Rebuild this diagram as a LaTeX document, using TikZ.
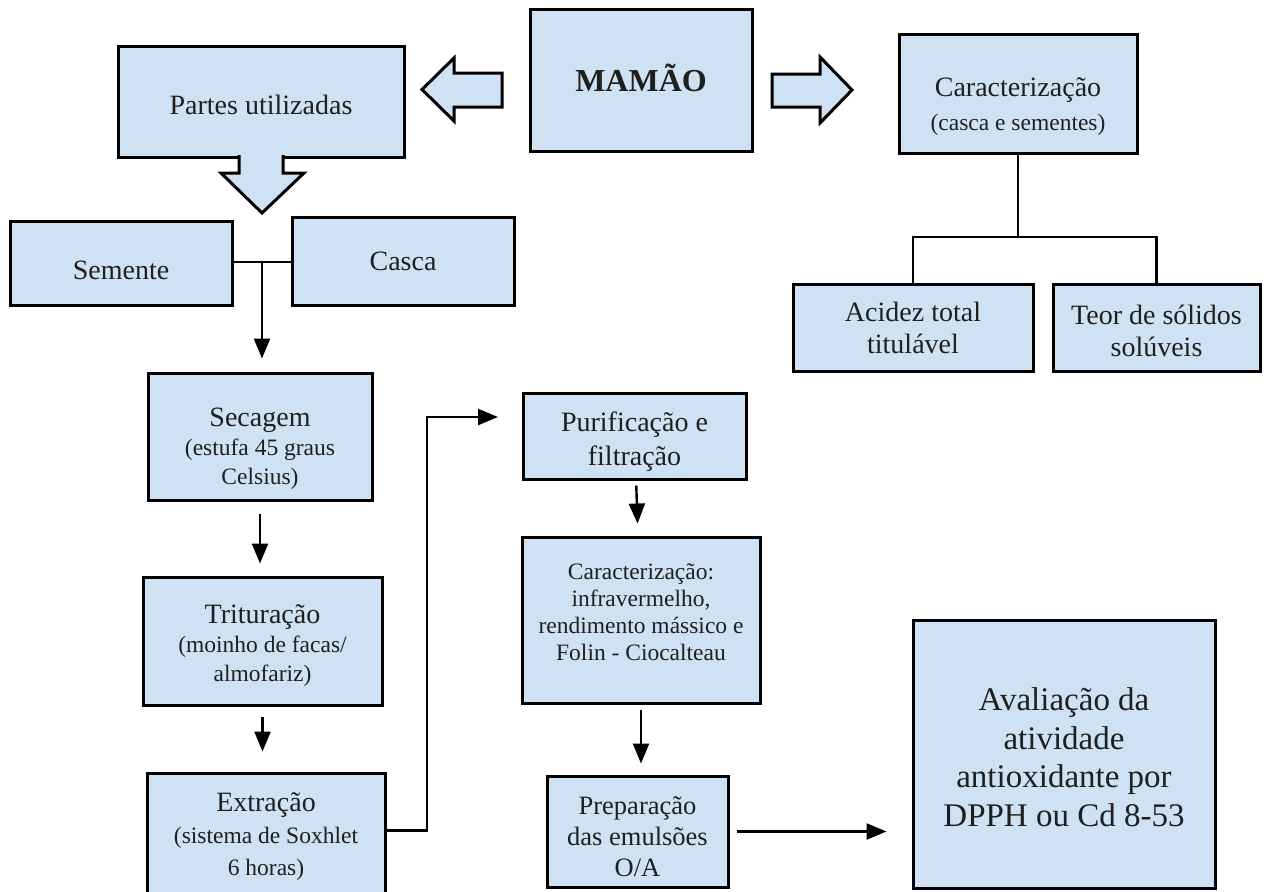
\documentclass[tikz,border=0pt]{standalone}
\usepackage{fontspec}
\setmainfont{Liberation Serif}
\usetikzlibrary{arrows.meta}

\definecolor{boxblue}{RGB}{207,226,243}
\newcommand{\subtxt}{\fontsize{23.5}{27}\selectfont}

\begin{document}
\begin{tikzpicture}[x=1pt, y=-1pt]
    % Styles for the boxes, their texts and the connectors
    \tikzstyle{box}=[draw, line width=3pt, fill=boxblue, inner sep=0pt]
    \tikzstyle{txt}=[align=center, inner sep=0pt, text=black!88, font=\fontsize{28}{32}\selectfont]
    \tikzstyle{line}=[line width=2.4pt]
    \tikzstyle{flow}=[line, -{Triangle[length=20pt,width=16pt]}]
    \tikzstyle{blockarrow}=[draw, line width=3pt, fill=boxblue]

    \useasboundingbox (0,0) rectangle (1268,891);

    % Top row
    \node[box, minimum width=222pt, minimum height=141pt] (mamao) at (641,80.5) {};
    \node[txt, font=\fontsize{32}{36}\selectfont\bfseries] (mamao-t) at ([yshift=3pt]mamao) {MAMÃO};
    \node[box, minimum width=286pt, minimum height=110pt] (partes) at (261,102) {};
    \node[txt] (partes-t) at ([yshift=-3pt]partes) {Partes utilizadas};
    \node[box, minimum width=238pt, minimum height=118pt] (carac) at (1018,94) {};
    \node[txt] (carac-t) at ([yshift=-13pt]carac) {Caracterização\\[2pt]{\subtxt (casca e sementes)}};

    % Hollow arrows leaving MAMAO
    \draw[blockarrow] (502,73) -- (454,73) -- (454,58) -- (422,89.5) -- (454,121) -- (454,107) -- (502,107) -- cycle;
    \draw[blockarrow] (772,74) -- (820,74) -- (820,57) -- (852,90) -- (820,123) -- (820,107) -- (772,107) -- cycle;
    \draw[blockarrow] (239,155.2) -- (239,173) -- (221,173) -- (262,213) -- (304,173) -- (283,173) -- (283,155.2);

    % Characterisation branch
    \node[box, minimum width=240pt, minimum height=87pt] (acidez) at (913,327.5) {};
    \node[txt] (acidez-t) at (acidez) {Acidez total\\titulável};
    \node[box, minimum width=207pt, minimum height=87pt] (teor) at (1156.5,327.5) {};
    \node[txt] (teor-t) at ([yshift=-3pt]teor) {Teor de sólidos\\solúveis};
    \coordinate (fork) at (1018,237);
    \draw[line] (carac.south) -- (fork);
    \draw[line] (acidez) |- (fork) -| (teor);

    % Parts used
    \node[box, minimum width=222pt, minimum height=84pt] (semente) at (121,263) {};
    \node[txt] (semente-t) at ([yshift=-7pt]semente) {Semente};
    \node[box, minimum width=222pt, minimum height=88pt] (casca) at (403,261) {};
    \node[txt] (casca-t) at (casca) {Casca};
    \coordinate (junc) at (262,262);
    \draw[line] (semente.east |- junc) -- (casca.west |- junc);

    % Processing chain
    \node[box, minimum width=224pt, minimum height=127pt] (secagem) at (260,436.5) {};
    \node[txt, font=\fontsize{28}{29}\selectfont] (secagem-t) at ([yshift=-12pt]secagem)
        {Secagem\\{\subtxt (estufa 45 graus}\\{\subtxt Celsius)}};
    \node[box, minimum width=239pt, minimum height=128pt] (tritur) at (262.5,641) {};
    \node[txt, font=\fontsize{28}{29}\selectfont] (tritur-t) at ([yshift=-5pt]tritur)
        {Trituração\\{\subtxt (moinho de facas/}\\{\subtxt almofariz)}};
    \node[box, minimum width=238pt, minimum height=127pt] (extr) at (266,836.5) {};
    \node[txt] (extr-t) at (extr) {Extração\\{\subtxt (sistema de Soxhlet}\\{\subtxt 6 horas)}};
    \node[box, minimum width=223pt, minimum height=86pt] (purif) at (634.5,436) {};
    \node[txt, font=\fontsize{28}{34}\selectfont] (purif-t) at ([yshift=-6pt]purif) {Purificação e\\filtração};
    \node[box, minimum width=238pt, minimum height=166pt] (carac2) at (641,620) {};
    \node[txt, font=\subtxt] (carac2-t) at ([yshift=8pt]carac2)
        {Caracterização:\\infravermelho,\\rendimento mássico e\\Folin - Ciocalteau};
    \node[box, minimum width=181pt, minimum height=111pt] (prep) at (637.5,831.5) {};
    \node[txt, font=\fontsize{26.5}{31}\selectfont] (prep-t) at ([yshift=-5pt]prep) {Preparação\\das emulsões\\O/A};
    \node[box, minimum width=302pt, minimum height=268pt] (aval) at (1064,754) {};
    \node[txt, font=\fontsize{33}{38.5}\selectfont] (aval-t) at ([yshift=-3pt]aval)
        {Avaliação da\\atividade\\antioxidante por\\DPPH ou Cd 8-53};

    % Connectors
    \coordinate (pin) at (498,417);
    \draw[flow, shorten >=13pt] (junc) -- (junc |- secagem.north);
    \draw[flow, shorten <=12pt, shorten >=12pt] (secagem.south) -- (secagem.south |- tritur.north);
    \draw[flow, shorten <=10pt, shorten >=20pt] (tritur.south) -- (tritur.south |- extr.north);
    \draw[flow] ([yshift=6pt]extr.east) -| ([xshift=-71pt]pin) -- (pin);
    \draw[flow, shorten <=5pt, shorten >=12pt] (purif) -- (carac2);
    \draw[flow, shorten <=5pt, shorten >=11pt] (carac2.south) -- (carac2.south |- prep.north);
    \draw[flow, shorten <=7pt, shorten >=25pt] (prep.east) -- (prep.east -| aval.west);

\end{tikzpicture}
\end{document}
